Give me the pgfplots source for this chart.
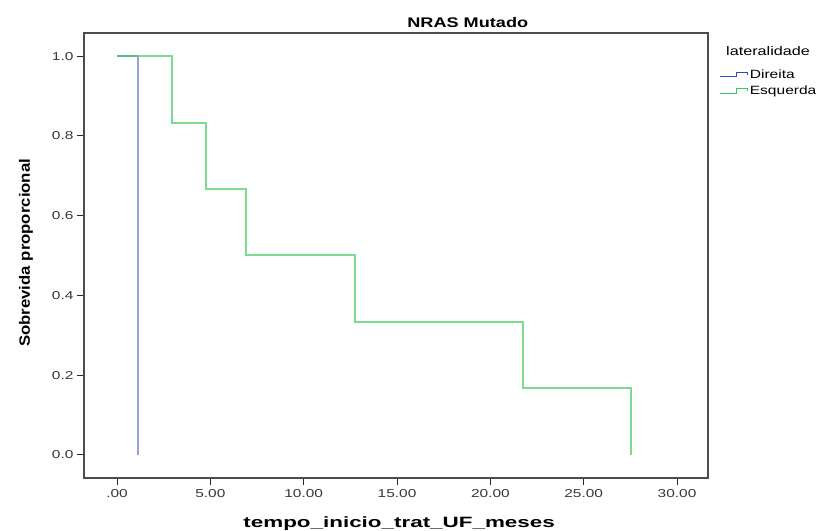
\documentclass[border=0pt]{standalone}
\usepackage{pgfplots}
\pgfplotsset{compat=1.18}
\usepackage{fontspec}
\setmainfont{Liberation Sans}
\newfontfamily\tickfont[FakeStretch=1.35]{Liberation Sans}
\newfontfamily\xlabfont[FakeStretch=1.5]{Liberation Sans}
\newfontfamily\ylabfont[FakeStretch=1.12]{Liberation Sans}
\newfontfamily\titlefont[FakeStretch=1.3]{Liberation Sans}
\newfontfamily\legfont[FakeStretch=1.3]{Liberation Sans}
\definecolor{kmblue}{RGB}{150,165,215}
\definecolor{kmgreen}{RGB}{125,218,145}
\definecolor{kmover}{RGB}{100,178,140}
\definecolor{lgblue}{RGB}{45,75,200}
\definecolor{lggreen}{RGB}{55,200,95}
\definecolor{tickgray}{RGB}{55,55,55}
\begin{document}
\begin{tikzpicture}
\useasboundingbox (-84bp,-53bp) rectangle (740bp,478bp);
\begin{axis}[
  at={(0,0)}, anchor=south west,
  scale only axis,
  width=624bp, height=445bp,
  xmin=-1.77, xmax=31.66,
  ymin=-0.058, ymax=1.058,
  xtick={0,5,10,15,20,25,30},
  xticklabels={.00,5.00,10.00,15.00,20.00,25.00,30.00},
  ytick={0,0.2,0.4,0.6,0.8,1.0},
  yticklabels={0.0,0.2,0.4,0.6,0.8,1.0},
  tick align=outside,
  xtick pos=bottom, ytick pos=left,
  major tick length=7bp,
  every tick/.style={black!85, line width=1pt},
  axis line style={draw=black!70, line width=1.1pt},
  tick label style={font=\tickfont\fontsize{11.5}{12}\selectfont, text=tickgray},
  xticklabel style={yshift=-1bp},
  /pgf/number format/assume math mode=true,
  title={\titlefont\bfseries NRAS Mutado},
  title style={font=\fontsize{14}{16}\selectfont, at={(axis description cs:0.615,1.01)}, anchor=center},
  xlabel={\xlabfont\bfseries tempo\_inicio\_trat\_UF\_meses},
  ylabel={\ylabfont\bfseries Sobrevida proporcional},
  label style={font=\fontsize{15}{17}\selectfont},
  xlabel style={at={(axis description cs:0.505,-0.103)}, anchor=center},
  ylabel style={at={(axis description cs:-0.093,0.506)}, anchor=center},
  legend style={draw=none, fill=none, font=\legfont\fontsize{12}{13}\selectfont, at={(1.019,0.92)}, anchor=north west, row sep=4bp, inner sep=0pt,
    nodes={inner xsep=2bp, inner ysep=1bp}},
  legend cell align=left,
  clip=false,
]
\addplot[kmblue, line width=2bp, const plot, forget plot] coordinates {(0,1) (1.12,1) (1.12,0)};
\addplot[kmgreen, line width=2bp, const plot, forget plot] coordinates {
  (0,1) (2.95,1) (2.95,0.8333) (4.75,0.8333) (4.75,0.6667) (6.91,0.6667) (6.91,0.5)
  (12.75,0.5) (12.75,0.3333) (21.75,0.3333) (21.75,0.1667) (27.55,0.1667) (27.55,0)};
\addplot[draw=kmover, line width=2bp, forget plot] coordinates {(0,1) (1.12,1)};
\addlegendimage{legend image code/.code={\draw[lgblue, line width=0.8bp] (0bp,-2bp) -- (16bp,-2bp) -- (16bp,2.5bp) -- (27bp,2.5bp) -- (27bp,0bp);}}
\addlegendentry{Direita}
\addlegendimage{legend image code/.code={\draw[lggreen, line width=0.8bp] (0bp,-2bp) -- (16bp,-2bp) -- (16bp,2.5bp) -- (27bp,2.5bp) -- (27bp,0bp);}}
\addlegendentry{Esquerda}
\node[anchor=west, font=\legfont\fontsize{12.5}{14}\selectfont] at (axis description cs:1.0235,0.96) {lateralidade};
\end{axis}
\end{tikzpicture}
\end{document}
